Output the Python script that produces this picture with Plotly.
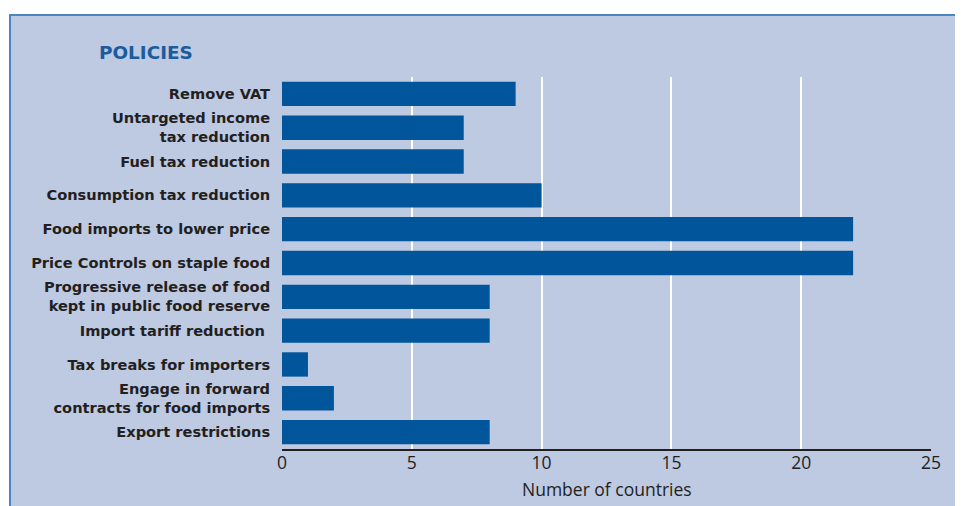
import plotly.graph_objects as go

categories = [
    "Remove VAT",
    "Untargeted income<br>tax reduction",
    "Fuel tax reduction",
    "Consumption tax reduction",
    "Food imports to lower price",
    "Price Controls on staple food",
    "Progressive release of food<br>kept in public food reserve",
    "Import tariff reduction\u00a0",
    "Tax breaks for importers",
    "Engage in forward<br>contracts for food imports",
    "Export restrictions",
]
values = [9, 7, 7, 10, 22, 22, 8, 8, 1, 2, 8]
x_ticks = [0, 5, 10, 15, 20, 25]
x_title = "Number of countries"

BG = "#bec9e2"
BAR = "#00559b"
BORDER = "#4a86c4"
TXT = "#231f20"
BOLDFONT = "DejaVu Sans"
REGFONT = "Open Sans"

OFF = 8  # page body margin
W, H = 963 - OFF, 506 - OFF
L, R, T = 282 - OFF, 32, 77 - OFF
B = H - (449 - OFF)
pw, ph = W - L - R, H - T - B

def px(xp):
    return (xp - OFF - L) / pw

def py(yp):
    return (H - B - (yp - OFF)) / ph

fig = go.Figure(go.Bar(
    y=categories, x=values, orientation="h",
    marker=dict(color=BAR, line=dict(width=0)),
    width=0.72,
))

fig.add_shape(type="rect", xref="paper", yref="paper",
              x0=px(10), x1=px(990), y0=py(540), y1=py(15),
              fillcolor=BG, line=dict(color=BORDER, width=2), layer="below")

fig.add_annotation(text="<b>POLICIES</b>", xref="paper", yref="paper",
                   x=px(97), y=py(52), xanchor="left", yanchor="middle",
                   showarrow=False, font=dict(family=BOLDFONT, size=18.4, color="#1a5c9c"))

fig.add_annotation(text=x_title, xref="paper", yref="paper",
                   x=0.5, y=py(489), xanchor="center", yanchor="middle",
                   showarrow=False, font=dict(family=REGFONT, size=17.5, color=TXT))

fig.update_layout(
    width=W, height=H,
    margin=dict(l=L, r=R, t=T, b=B, pad=0, autoexpand=False),
    paper_bgcolor="white",
    plot_bgcolor=BG,
    showlegend=False,
    font=dict(family=REGFONT, color=TXT),
    xaxis=dict(
        range=[0, 25], tickvals=x_ticks, showgrid=True, gridcolor="white", gridwidth=2,
        zeroline=False, showline=True, linecolor=TXT, linewidth=2, automargin=False,
        ticks="inside", ticklen=3, tickcolor="white", tickwidth=2, ticklabelstandoff=-3,
        tickfont=dict(family=REGFONT, size=17.5, color=TXT),
    ),
    yaxis=dict(
        autorange="reversed", showgrid=False, zeroline=False, showline=False, automargin=False,
        ticks="outside", ticklen=8, tickcolor="rgba(0,0,0,0)",
        tickfont=dict(family=BOLDFONT, size=14.6, color=TXT, weight="bold"),
    ),
)

fig.write_html("out.html")
